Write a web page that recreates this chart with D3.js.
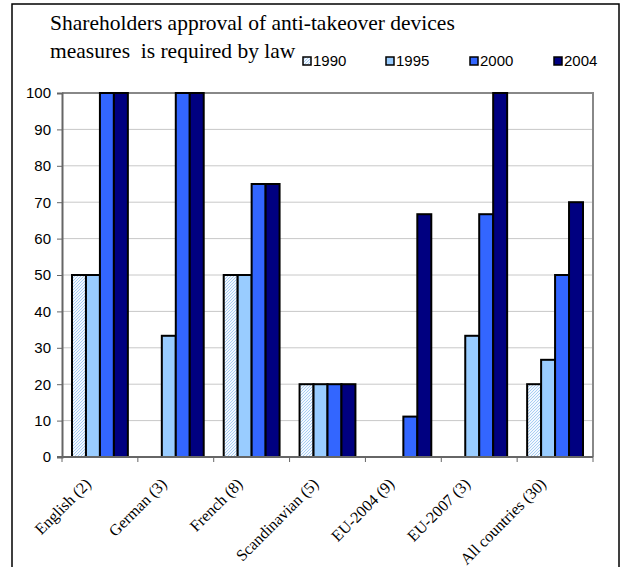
<!DOCTYPE html>
<meta charset="utf-8">
<script src="https://d3js.org/d3.v7.min.js"></script>
<body style="margin:0;background:#fff">
<svg width="623" height="567"></svg>
<script>
    var groups = ["English (2)", "German (3)", "French (8)", "Scandinavian (5)", "EU-2004 (9)", "EU-2007 (3)", "All countries (30)"];
    var years  = ["1990", "1995", "2000", "2004"];
    var v1990 = [50, 0, 50, 20, 0, 0, 20];
    var v1995 = [50, 33.3, 50, 20, 0, 33.3, 26.7];
    var v2000 = [100, 100, 75, 20, 11.1, 66.7, 50];
    var v2004 = [100, 100, 75, 20, 66.7, 100, 70];
    var yTicks = [0, 10, 20, 30, 40, 50, 60, 70, 80, 90, 100];
    var fills = ["url(#hatch)", "#99ccff", "#3366ff", "#000080"];

    var series = [v1990, v1995, v2000, v2004];

    var svg = d3.select('svg');
    var m = {left: 62, right: 593, top: 93, bottom: 457};

    // hatch pattern for 1990
    var defs = svg.append('defs');
    var pat = defs.append('pattern').attr('id', 'hatch')
        .attr('patternUnits', 'userSpaceOnUse').attr('width', 3).attr('height', 3);
    pat.append('rect').attr('width', 3).attr('height', 3).attr('fill', '#f2f8ff');
    pat.append('path').attr('d', 'M-1,1 l2,-2 M0,3 l3,-3 M2,4 l2,-2')
        .attr('stroke', '#a8cdf2').attr('stroke-width', 1);

    // outer frame
    svg.append('rect').attr('x', 12).attr('y', 4).attr('width', 607).attr('height', 600)
        .attr('fill', 'none').attr('stroke', '#000').attr('stroke-width', 1.5);

    var x0 = d3.scaleBand().domain(groups).range([m.left, m.right]).padding(0);
    var x1 = d3.scaleBand().domain(years).range([10, x0.bandwidth() - 10]).padding(0);
    var y = d3.scaleLinear().domain([0, 100]).range([m.bottom, m.top]);

    /* ----------- grid ----------- */
    svg.append('g').selectAll('line').data(yTicks.slice(1, -1)).enter().append('line')
        .attr('x1', m.left).attr('x2', m.right)
        .attr('y1', function(d){ return y(d); }).attr('y2', function(d){ return y(d); })
        .attr('stroke', '#c8c8c8').attr('stroke-width', 1);

    // plot border top/right
    svg.append('path')
        .attr('d', 'M' + m.left + ',' + m.top + 'H' + m.right + 'V' + m.bottom)
        .attr('fill', 'none').attr('stroke', '#888').attr('stroke-width', 2);

    /* ----------- bars ----------- */
    var bars = [];
    groups.forEach(function(g, i){
        years.forEach(function(yr, k){
            bars.push({g: g, yr: yr, k: k, v: series[k][i]});
        });
    });

    svg.append('g').selectAll('rect').data(bars.filter(function(d){ return d.v > 0; }))
        .enter().append('rect')
        .attr('x', function(d){ return x0(d.g) + x1(d.yr); })
        .attr('y', function(d){ return y(d.v); })
        .attr('width', x1.bandwidth())
        .attr('height', function(d){ return y(0) - y(d.v); })
        .attr('fill', function(d){ return fills[d.k]; })
        .attr('stroke', '#000').attr('stroke-width', 2);

    /* ----------- axes ----------- */
    var yAxis = svg.append('g').attr('transform', 'translate(' + m.left + ',0)')
        .call(d3.axisLeft(y).tickValues(yTicks).tickSize(5).tickPadding(6));
    yAxis.select('.domain').attr('stroke', '#666').attr('stroke-width', 2);
    yAxis.selectAll('.tick line').attr('stroke', '#666');
    yAxis.selectAll('text').attr('font-family', 'Liberation Sans, Arial, sans-serif')
        .attr('font-size', 15).attr('fill', '#000');

    var bounds = groups.map(function(g){ return x0(g); }).concat([m.right]);
    var xAxis = svg.append('g');
    xAxis.append('line').attr('x1', m.left - 5).attr('x2', m.right)
        .attr('y1', m.bottom).attr('y2', m.bottom)
        .attr('stroke', '#666').attr('stroke-width', 2);
    xAxis.selectAll('line.t').data(bounds).enter().append('line').attr('class', 't')
        .attr('x1', function(d){ return d; }).attr('x2', function(d){ return d; })
        .attr('y1', m.bottom).attr('y2', m.bottom + 5)
        .attr('stroke', '#666').attr('stroke-width', 1);

    xAxis.selectAll('text').data(groups).enter().append('text')
        .attr('transform', function(d){
            return 'translate(' + (x0(d) + x0.bandwidth() / 2 - 8) + ',' + (m.bottom + 28) + ') rotate(-45)';
        })
        .attr('text-anchor', 'end')
        .attr('font-family', 'Liberation Serif, Times New Roman, serif')
        .attr('font-size', 16)
        .text(function(d){ return d; });

    /* ----------- title ----------- */
    var title = svg.append('text').attr('font-family', 'Liberation Serif, Times New Roman, serif')
        .attr('font-size', 21.5).attr('fill', '#000');
    title.append('tspan').attr('x', 50).attr('y', 30).text('Shareholders approval of anti-takeover devices');
    title.append('tspan').attr('x', 50).attr('y', 58).attr('xml:space', 'preserve').text('measures  is required by law');

    /* ----------- legend ----------- */
    var legX = [303, 386, 470, 554];
    var leg = svg.append('g').selectAll('g').data(years).enter().append('g')
        .attr('transform', function(d, i){ return 'translate(' + legX[i] + ',57)'; });
    leg.append('rect').attr('width', 8).attr('height', 8)
        .attr('fill', function(d, i){ return fills[i]; })
        .attr('stroke', '#000').attr('stroke-width', 1.5);
    leg.append('text').attr('x', 10).attr('y', 9)
        .attr('font-family', 'Liberation Sans, Arial, sans-serif').attr('font-size', 15)
        .text(function(d){ return d; });
</script>
</body>
